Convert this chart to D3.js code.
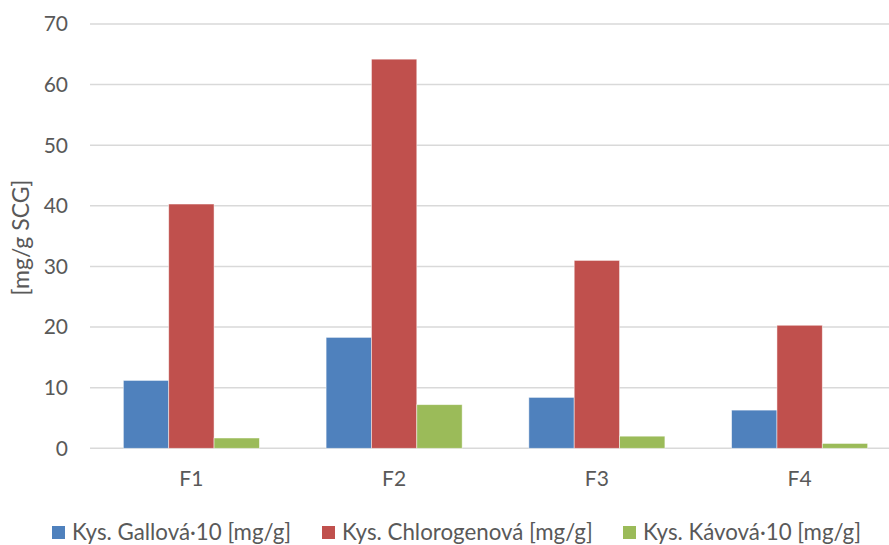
<!DOCTYPE html>
<html><head><meta charset="utf-8">
<script src="https://cdn.jsdelivr.net/npm/d3@7"></script>
<style>body{margin:0;background:#fff;} text{font-family:Lato,"Open Sans",sans-serif;}</style>
</head><body>
<svg id="c" width="889" height="545"></svg>
<script>
const categories = ["F1","F2","F3","F4"];
const seriesNames = ["Kys. Gallová·10 [mg/g]","Kys. Chlorogenová [mg/g]","Kys. Kávová·10 [mg/g]"];
const gallova = [11.2, 18.3, 8.4, 6.3];
const chlorogenova = [40.3, 64.2, 31.0, 20.3];
const kavova = [1.7, 7.2, 2.0, 0.8];
const yTicks = [0,10,20,30,40,50,60,70];
const colors = ["#4F81BD","#C0504D","#9BBB59"];
const series = [gallova, chlorogenova, kavova];
const FS = 21;

const svg = d3.select("#c");
const x = d3.scaleBand().domain(categories).range([90, 901]).paddingInner(0.329).paddingOuter(0.1645);
const xs = d3.scaleBand().domain(d3.range(series.length)).range([0, x.bandwidth()]);
const y = d3.scaleLinear().domain([0,70]).range([448.3, 24]);

svg.append("g").selectAll("line").data(yTicks).join("line")
  .attr("x1", 90).attr("x2", 901)
  .attr("y1", d=>y(d)).attr("y2", d=>y(d))
  .attr("stroke", "#d9d9d9").attr("stroke-width", 1.5);

svg.append("g").selectAll("text").data(yTicks).join("text")
  .attr("x", 68).attr("y", d=>y(d)).attr("dy","0.35em")
  .attr("text-anchor","end").attr("fill","#595959").attr("font-size",FS)
  .text(d=>d);

const g = svg.append("g");
series.forEach((vals, si) => {
  g.append("g").selectAll("rect").data(vals).join("rect")
    .attr("x", (d,i)=>x(categories[i]) + xs(si))
    .attr("y", d=>y(d))
    .attr("width", xs.bandwidth())
    .attr("height", d=>y(0)-y(d))
    .attr("fill", colors[si])
    .attr("stroke", "#fff").attr("stroke-opacity",0.6).attr("stroke-width", 0.8);
});

svg.append("g").selectAll("text").data(categories).join("text")
  .attr("x", d=>x(d)+x.bandwidth()/2).attr("y", 486)
  .attr("text-anchor","middle").attr("fill","#595959").attr("font-size",FS)
  .text(d=>d);

svg.append("text").attr("transform","translate(29,237.5) rotate(-90)")
  .attr("text-anchor","middle").attr("fill","#595959").attr("font-size",23)
  .text("[mg/g SCG]");

const legX = [52, 322, 623];
const leg = svg.append("g");
seriesNames.forEach((n, i) => {
  leg.append("rect").attr("x", legX[i]).attr("y", 526).attr("width", 13).attr("height", 13).attr("fill", colors[i]);
  leg.append("text").attr("x", legX[i]+20).attr("y", 540)
    .attr("fill","#595959").attr("font-size",22.3).text(n);
});
</script>
</body></html>
